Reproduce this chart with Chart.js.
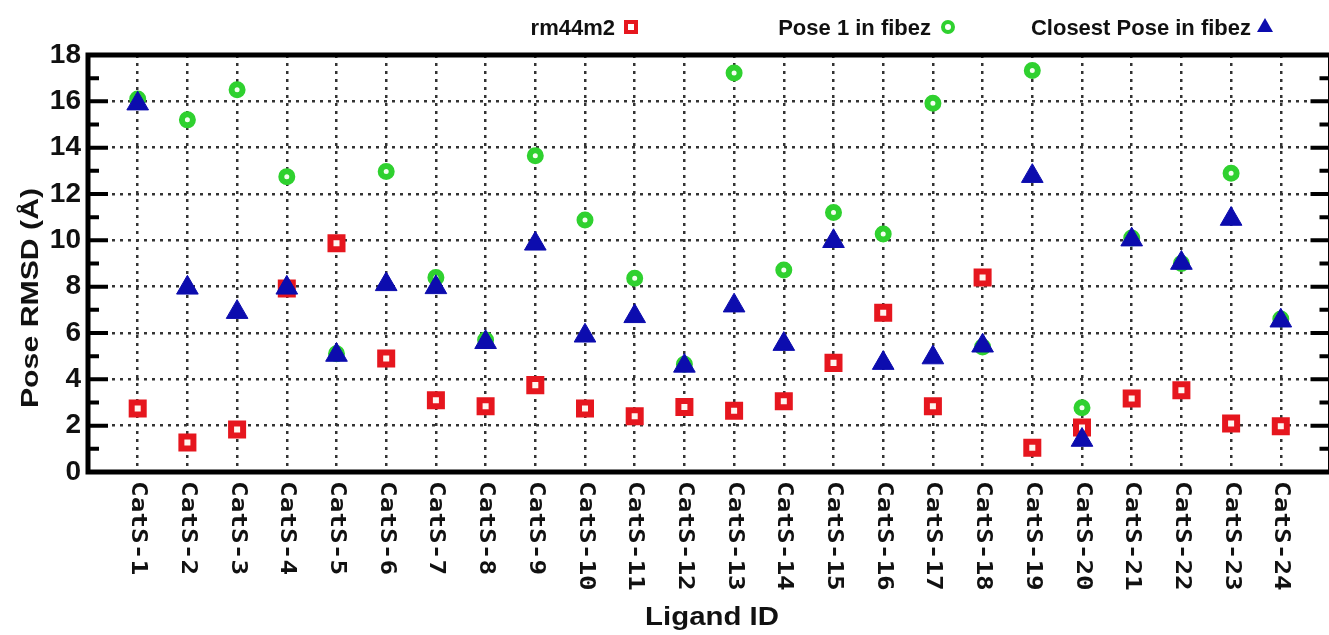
<!DOCTYPE html>
<html>
<head>
<meta charset="utf-8">
<script src="https://cdn.jsdelivr.net/npm/chart.js@4/dist/chart.umd.min.js"></script>
<style>
  html, body { margin: 0; padding: 0; background: #fff; overflow: hidden; }
  #wrap { width: 1329px; height: 635px; overflow: hidden; }
</style>
</head>
<body>
<div id="wrap"><canvas id="chart" width="1345" height="635"></canvas></div>
<script>
"use strict";

// ligand ids (x positions 1..24)
const LIGANDS = [
  "CatS-1", "CatS-2", "CatS-3", "CatS-4", "CatS-5", "CatS-6", "CatS-7", "CatS-8",
  "CatS-9", "CatS-10", "CatS-11", "CatS-12", "CatS-13", "CatS-14", "CatS-15", "CatS-16",
  "CatS-17", "CatS-18", "CatS-19", "CatS-20", "CatS-21", "CatS-22", "CatS-23", "CatS-24",
];

const Y_TICKS = [0, 2, 4, 6, 8, 10, 12, 14, 16, 18];

// pose RMSD (Å)
const RM44M2 = [2.74, 1.27, 1.83, 7.92, 9.87, 4.90, 3.10, 2.84, 3.75, 2.74, 2.41, 2.81,
                2.64, 3.05, 4.71, 6.87, 2.84, 8.40, 1.05, 1.92, 3.17, 3.53, 2.09, 1.97];
const POSE1_FIBEZ = [16.1, 15.2, 16.5, 12.75, 5.1, 12.97, 8.4, 5.7, 13.65, 10.88, 8.36, 4.65,
                     17.22, 8.72, 11.2, 10.27, 15.92, 5.4, 17.33, 2.77, 10.1, 9.0, 12.9, 6.6];
const CLOSEST_FIBEZ = [15.9, 7.95, 6.9, 7.95, 5.05, 8.1, 7.97, 5.6, 9.85, 5.88, 6.72, 4.58,
                       7.18, 5.52, 9.96, 4.7, 4.94, 5.45, 12.77, 1.38, 10.03, 9.02, 10.92, 6.53];

const SERIES_NAMES = ["rm44m2", "Pose 1 in fibez", "Closest Pose in fibez"];

const RED = "#e6161e";
const GREEN = "#2fd12f";
const BLUE = "#0c0cae";
const GRID = "#333";

function points(values) {
  return values.map((v, i) => ({ x: i + 1, y: v }));
}

const decor = {
  id: "decor",
  afterDraw(chart) {
    const { ctx, chartArea: a, scales } = chart;
    const xs = scales.x, ys = scales.y;
    ctx.save();

    // frame
    ctx.strokeStyle = "#000";
    ctx.lineWidth = 5;
    ctx.strokeRect(a.left, a.top, a.right - a.left, a.bottom - a.top);

    // inward ticks, left and right
    ctx.lineWidth = 4;
    for (let v = 0; v <= 18; v++) {
      const y = ys.getPixelForValue(v);
      const len = v % 2 === 0 ? 20 : 11;
      ctx.beginPath();
      ctx.moveTo(a.left, y); ctx.lineTo(a.left + len, y);
      ctx.moveTo(a.right - len, y); ctx.lineTo(a.right, y);
      ctx.stroke();
    }

    // x labels, rotated clockwise
    ctx.fillStyle = "#111";
    ctx.font = "bold 21px 'DejaVu Sans Mono', monospace";
    ctx.textAlign = "left";
    ctx.textBaseline = "middle";
    LIGANDS.forEach((lab, i) => {
      const px = xs.getPixelForValue(i + 1);
      ctx.save();
      ctx.translate(px, 481);
      ctx.rotate(Math.PI / 2);
      ctx.scale(1.24, 1);
      ctx.fillText(lab, 0, 0);
      ctx.restore();
    });

    // axis titles
    ctx.fillStyle = "#111";
    ctx.font = "bold 24px 'Liberation Sans', Arial, sans-serif";
    ctx.textAlign = "center";
    ctx.textBaseline = "alphabetic";
    ctx.save();
    ctx.translate(38, 298);
    ctx.rotate(-Math.PI / 2);
    ctx.scale(1.26, 1);
    ctx.fillText("Pose RMSD (Å)", 0, 0);
    ctx.restore();

    ctx.save();
    ctx.font = "bold 26px 'Liberation Sans', Arial, sans-serif";
    ctx.translate(712, 625);
    ctx.scale(1.13, 1);
    ctx.fillText("Ligand ID", 0, 0);
    ctx.restore();

    // legend: text then marker
    ctx.font = "bold 22px 'Liberation Sans', Arial, sans-serif";
    ctx.textAlign = "right";
    ctx.fillStyle = "#111";
    const ly = 35, my = 27;
    ctx.fillText(SERIES_NAMES[0], 615, ly);
    ctx.fillText(SERIES_NAMES[1], 931, ly);
    ctx.fillText(SERIES_NAMES[2], 1251, ly);

    ctx.lineWidth = 4;
    ctx.strokeStyle = RED;
    ctx.strokeRect(631 - 5, my - 5, 10, 10);

    ctx.strokeStyle = GREEN;
    ctx.beginPath();
    ctx.arc(948, my, 5, 0, Math.PI * 2);
    ctx.stroke();

    ctx.fillStyle = BLUE;
    ctx.beginPath();
    ctx.moveTo(1265, my - 9);
    ctx.lineTo(1273, my + 5);
    ctx.lineTo(1257, my + 5);
    ctx.closePath();
    ctx.fill();

    ctx.restore();
  },
};

new Chart(document.getElementById("chart"), {
  type: "scatter",
  data: {
    datasets: [
      {
        label: SERIES_NAMES[2],
        data: points(CLOSEST_FIBEZ),
        pointStyle: "triangle",
        pointRadius: 12.5,
        borderWidth: 1,
        borderColor: BLUE,
        backgroundColor: BLUE,
        order: 0,
      },
      {
        label: SERIES_NAMES[1],
        data: points(POSE1_FIBEZ),
        pointStyle: "circle",
        pointRadius: 5.5,
        borderWidth: 6,
        borderColor: GREEN,
        backgroundColor: "#f4fff0",
        order: 1,
      },
      {
        label: SERIES_NAMES[0],
        data: points(RM44M2),
        pointStyle: "rect",
        pointRadius: 8.5,
        borderWidth: 6,
        borderColor: RED,
        backgroundColor: "#fff6f0",
        order: 2,
      },
    ],
  },
  options: {
    responsive: false,
    animation: false,
    devicePixelRatio: 1,
    layout: { padding: { top: 55, right: 13, left: 0, bottom: 0 } },
    plugins: { legend: { display: false }, tooltip: { enabled: false } },
    scales: {
      x: {
        type: "linear",
        min: 0,
        max: 25,
        afterFit: (s) => { s.height = 163; },
        ticks: { stepSize: 1, display: false },
        grid: {
          drawTicks: false,
          lineWidth: 2.5,
          color: (c) => (c.tick && c.tick.value >= 1 && c.tick.value <= 24 ? GRID : "rgba(0,0,0,0)"),
        },
        border: { display: false, dash: [3, 5] },
      },
      y: {
        min: 0,
        max: 18,
        afterFit: (s) => { s.width = 88; },
        afterBuildTicks: (s) => { s.ticks = Y_TICKS.map((v) => ({ value: v })); },
        ticks: {
          color: "#111",
          padding: 7,
          font: { family: "'Liberation Sans', Arial, sans-serif", size: 28, weight: "bold" },
        },
        grid: { drawTicks: false, lineWidth: 2.5, color: GRID },
        border: { display: false, dash: [3, 5] },
      },
    },
  },
  plugins: [decor],
});
</script>
</body>
</html>
